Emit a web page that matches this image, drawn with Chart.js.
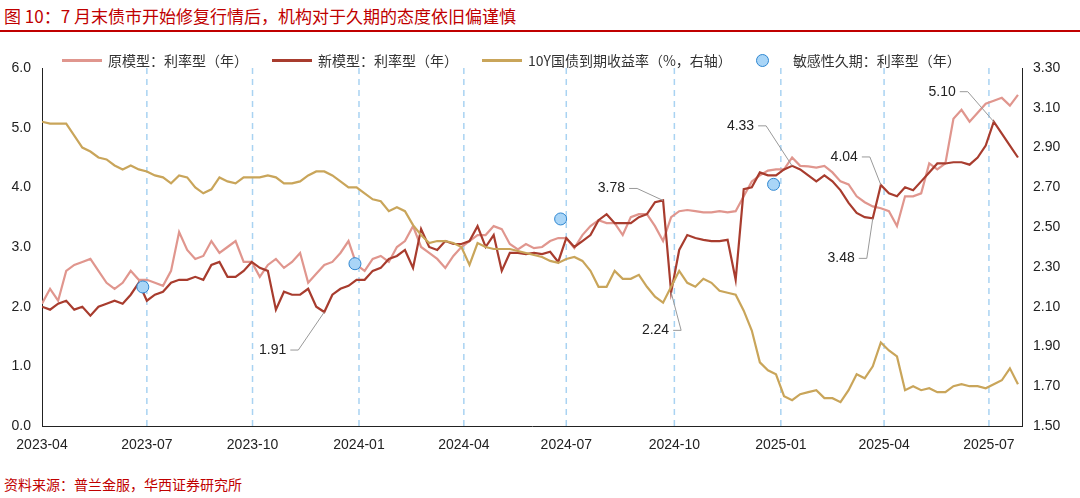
<!DOCTYPE html>
<html><head><meta charset="utf-8">
<script src="https://cdn.jsdelivr.net/npm/chart.js@4"></script>
<style>
body{margin:0;width:1080px;height:498px;background:#fff;font-family:"Liberation Sans","Noto Sans CJK SC",sans-serif;position:relative;overflow:hidden}
#title{position:absolute;left:4px;top:3px;font-size:17px;color:#c00000;font-family:"Noto Sans CJK SC",sans-serif}
#rule{position:absolute;left:0;top:30px;width:1080px;height:2px;background:#c00000}
#foot{position:absolute;left:4px;top:474px;font-size:14px;color:#c00000;font-family:"Noto Sans CJK SC",sans-serif}
#wrap{position:absolute;left:0;top:36px;width:1080px;height:434px}
#legend{position:absolute;top:50px;left:62px;font-size:14px;color:#333;font-family:"Noto Sans CJK SC",sans-serif;display:flex;gap:0;align-items:center;white-space:nowrap}
.it{display:flex;align-items:center;margin-right:24px}
.ln{display:inline-block;width:40px;height:3px;margin-right:6px}
.dt{display:inline-block;width:11px;height:11px;border-radius:50%;background:#a9d5f7;border:1px solid #2e86d0;margin-right:24px}
</style></head><body>
<div id="title">图 10：7 月末债市开始修复行情后，机构对于久期的态度依旧偏谨慎</div>
<div id="rule"></div>
<div id="wrap"><canvas id="c"></canvas></div>
<div id="legend">
<span class="it"><span class="ln" style="background:#e0968e"></span>原模型：利率型（年）</span>
<span class="it"><span class="ln" style="background:#a83c2e"></span>新模型：利率型（年）</span>
<span class="it"><span class="ln" style="background:#c9a55a"></span>10Y国债到期收益率（%，右轴）</span>
<span class="it"><span class="dt"></span>敏感性久期：利率型（年）</span>
</div>
<div id="foot">资料来源：普兰金服，华西证券研究所</div>
<script>
// weekly observations starting 2023-04-01 (week index)
const oldModel=[2.05,2.3,2.1,2.6,2.7,2.75,2.8,2.6,2.4,2.3,2.4,2.6,2.45,2.45,2.4,2.35,2.6,3.25,2.95,2.8,2.85,3.1,2.9,3.0,3.1,2.75,2.75,2.5,2.7,2.8,2.65,2.75,2.9,2.4,2.55,2.7,2.75,2.9,3.1,2.7,2.6,2.8,2.85,2.75,3.0,3.1,3.35,3.0,2.9,2.8,2.65,2.85,3.0,3.1,3.2,3.2,3.35,3.3,3.05,
2.96,3.05,2.98,3.0,3.1,3.15,3.15,2.98,3.2,3.35,3.45,3.4,3.4,3.2,3.5,3.55,3.55,3.35,3.1,3.5,3.6,3.62,3.6,3.58,3.58,3.6,3.58,3.6,3.85,4.1,4.2,4.28,4.3,4.3,4.5,4.36,4.35,4.33,4.36,4.25,4.1,4.05,3.85,3.75,3.68,3.65,3.6,3.35,3.85,3.85,3.9,4.4,4.3,4.4,5.15,5.3,5.1,5.25,5.4,5.45,5.5,5.37,5.55];
const newModel=[2.0,1.95,2.05,2.1,1.95,2.0,1.85,2.0,2.05,2.1,2.05,2.2,2.4,2.1,2.2,2.25,2.4,2.45,2.45,2.5,2.45,2.7,2.75,2.5,2.5,2.6,2.75,2.65,2.6,1.95,2.25,2.2,2.2,2.3,2.0,1.91,2.2,2.3,2.35,2.45,2.45,2.6,2.65,2.8,2.85,2.95,2.65,3.3,3.0,2.95,3.1,3.05,3.05,3.1,3.35,3.0,3.2,2.6,2.9,
2.9,2.88,2.9,2.88,2.92,2.75,3.15,3.0,3.1,3.2,3.45,3.55,3.4,3.4,3.4,3.5,3.55,3.75,3.78,2.24,2.95,3.2,3.15,3.12,3.1,3.1,3.12,2.45,3.97,4.0,4.25,4.2,4.2,4.3,4.36,4.3,4.2,4.1,4.2,4.1,3.95,3.74,3.57,3.5,3.48,4.04,3.9,3.85,4.0,3.95,4.1,4.25,4.4,4.4,4.42,4.42,4.38,4.5,4.7,5.1,4.9,4.7,4.5];
const yield10y=[3.03,3.02,3.02,3.02,2.96,2.90,2.88,2.85,2.84,2.81,2.79,2.81,2.79,2.78,2.76,2.75,2.72,2.76,2.75,2.70,2.67,2.69,2.75,2.73,2.72,2.75,2.75,2.75,2.76,2.75,2.72,2.72,2.73,2.76,2.78,2.78,2.76,2.73,2.70,2.70,2.67,2.64,2.63,2.58,2.60,2.58,2.51,2.46,2.42,2.43,2.43,2.42,2.40,2.31,2.42,2.40,2.39,2.39,2.39,
2.38,2.37,2.36,2.35,2.33,2.32,2.34,2.35,2.33,2.28,2.2,2.2,2.28,2.24,2.24,2.26,2.2,2.15,2.12,2.2,2.28,2.22,2.2,2.24,2.22,2.18,2.17,2.16,2.08,1.98,1.82,1.78,1.76,1.65,1.63,1.66,1.67,1.68,1.64,1.64,1.62,1.68,1.76,1.74,1.80,1.92,1.88,1.85,1.68,1.70,1.68,1.69,1.67,1.67,1.70,1.71,1.70,1.70,1.69,1.71,1.73,1.79,1.71];
const sensWeeks=[12.5,38.8,64.3,90.7];
const sensValues=[2.33,2.72,3.47,4.05];
const tickWeeks=[0,13,26.1,39.3,52.3,65,78.4,91.6,104.4,117.4];
const tickLabels=["2023-04","2023-07","2023-10","2024-01","2024-04","2024-07","2024-10","2025-01","2025-04","2025-07"];
const notes=[{w:35,v:1.91,t:"1.91",dx:-40,dy:38},{w:77,v:3.78,t:"3.78",dx:-40,dy:-12},{w:78,v:2.24,t:"2.24",dx:-4,dy:38},{w:93,v:4.36,t:"4.33",dx:-40,dy:-40},{w:104,v:4.04,t:"4.04",dx:-25,dy:-28},{w:103,v:3.48,t:"3.48",dx:-20,dy:40},{w:118,v:5.1,t:"5.10",dx:-40,dy:-30}];

const pts=a=>a.map((v,i)=>({x:i,y:v}));
const notePlugin={id:'notes',afterDatasetsDraw(ch){const c=ch.ctx,x=ch.scales.x,y=ch.scales.y;c.save();c.font='14px "Liberation Sans"';c.fillStyle='#222';c.strokeStyle='#999';c.lineWidth=1;
notes.forEach(n=>{const px=x.getPixelForValue(n.w),py=y.getPixelForValue(n.v);const tx=px+n.dx,ty=py+n.dy;c.beginPath();c.moveTo(px,py);c.lineTo(tx+(n.dx<0?14:0),ty);c.lineTo(tx+(n.dx<0?6:0),ty);c.stroke();c.textAlign=n.dx<0?'right':'center';c.textBaseline='middle';c.fillText(n.t,n.dx<0?tx+2:tx,n.dx<0?ty:ty+10);});c.restore();}};
new Chart(document.getElementById('c'),{
data:{datasets:[
{type:'scatter',data:sensWeeks.map((w,i)=>({x:w,y:sensValues[i]})),backgroundColor:'#a9d5f7',borderColor:'#2e86d0',borderWidth:1,pointRadius:6,yAxisID:'y',order:0},
{type:'line',data:pts(oldModel),borderColor:'#e0968e',borderWidth:2.2,pointRadius:0,tension:0,yAxisID:'y',order:3},
{type:'line',data:pts(newModel),borderColor:'#a83c2e',borderWidth:2.2,pointRadius:0,tension:0,yAxisID:'y',order:2},
{type:'line',data:pts(yield10y),borderColor:'#c9a55a',borderWidth:2.2,pointRadius:0,tension:0,yAxisID:'y2',order:1}]},
options:{responsive:true,maintainAspectRatio:false,animation:false,
layout:{padding:{top:32,left:0,right:0,bottom:0}},
plugins:{legend:{display:false},tooltip:{enabled:false}},
scales:{
x:{type:'linear',min:0,max:121.5,afterFit(s){s.height=44},
afterBuildTicks(s){s.ticks=tickWeeks.map(v=>({value:v}));},
ticks:{autoSkip:false,maxRotation:0,color:'#222',font:{size:14,family:'Liberation Sans'},callback:(v,i)=>tickLabels[i]},
grid:{display:false},border:{color:'#222'}},
y:{position:'left',min:0,max:6,afterFit(s){s.width=42},ticks:{stepSize:1,color:'#222',font:{size:14,family:'Liberation Sans'},callback:v=>v.toFixed(1)},grid:{display:false},border:{color:'#222'}},
y2:{position:'right',min:1.5,max:3.3,afterFit(s){s.width=58},ticks:{stepSize:0.2,color:'#222',font:{size:14,family:'Liberation Sans'},callback:v=>v.toFixed(2)},grid:{display:false},border:{color:'#222'}}
}},plugins:[notePlugin,{id:'dash',beforeDatasetsDraw(ch){const c=ch.ctx,x=ch.scales.x,a=ch.chartArea;c.save();c.strokeStyle='#a9d3f2';c.lineWidth=1.5;c.setLineDash([6,5]);tickWeeks.slice(1).forEach(w=>{const px=x.getPixelForValue(w);c.beginPath();c.moveTo(px,a.top);c.lineTo(px,a.bottom);c.stroke();});c.restore();}}]
});
</script></body></html>
